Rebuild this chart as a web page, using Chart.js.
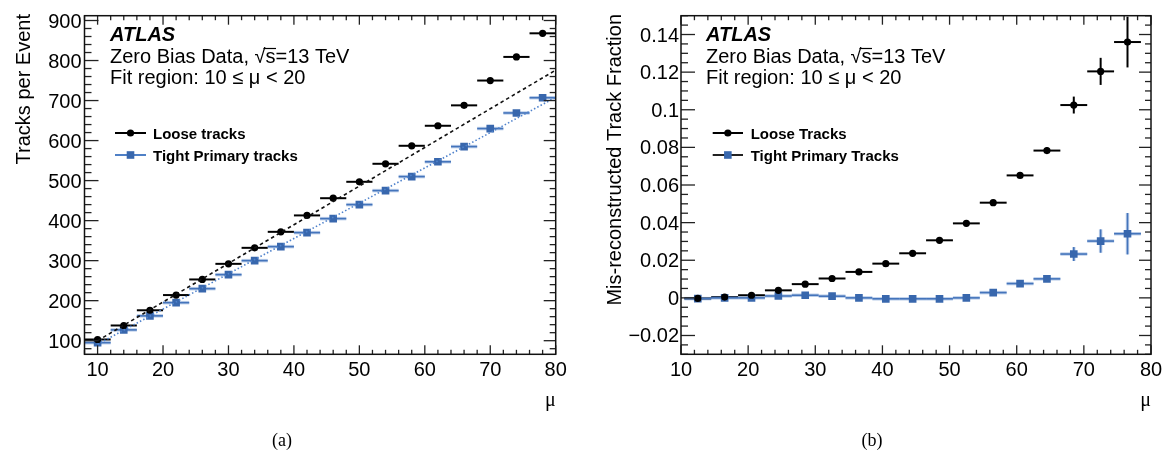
<!DOCTYPE html>
<html lang="en">
<head>
<meta charset="UTF-8">
<title>ATLAS tracks per event vs mu</title>
<script src="https://cdn.jsdelivr.net/npm/chart.js"></script>
<style>
  html, body { margin: 0; padding: 0; background: #fff; }
  .wrap { position: relative; width: 1164px; height: 458px; }
  .panel { position: absolute; top: 0; width: 582px; height: 458px; }
</style>
</head>
<body>
<div class="wrap">
  <div class="panel" style="left:0"><canvas id="chartA" width="582" height="458"></canvas></div>
  <div class="panel" style="left:582px"><canvas id="chartB" width="582" height="458"></canvas></div>
</div>
<script>
// ---- panel (a): tracks per event ----
const muA = [10, 14, 18, 22, 26, 30, 34, 38, 42, 46, 50, 54, 58, 62, 66, 70, 74, 78];
const looseA = [103, 138, 176, 214, 253, 292, 332, 372, 413, 456, 497, 542, 587, 637, 688, 750, 809, 868];
const tightA = [95, 127, 162, 195, 230, 265, 300, 335, 370, 405, 440, 475, 510, 547, 585, 630, 669, 707];
const fitMu = [10, 80];
const fitLooseA = [100, 776];
const fitTightA = [91, 708];
const xTicksA = [10, 20, 30, 40, 50, 60, 70, 80];
const yTicksA = [100, 200, 300, 400, 500, 600, 700, 800, 900];

// ---- panel (b): mis-reconstructed fraction ----
const muB = [12.5, 16.5, 20.5, 24.5, 28.5, 32.5, 36.5, 40.5, 44.5, 48.5, 52.5, 56.5, 60.5, 64.5, 68.5, 72.5, 76.5];
const looseB = [-0.0003, 0.0004, 0.0014, 0.004, 0.0073, 0.0103, 0.0138, 0.0182, 0.0237, 0.0306, 0.0396, 0.0506, 0.0651, 0.0783, 0.1025, 0.1204, 0.136];
const looseErrB = [0, 0, 0, 0, 0, 0, 0, 0, 0, 0, 0, 0, 0.001, 0.0017, 0.0045, 0.0072, 0.0135];
const tightB = [-0.0004, 0, 0, 0.001, 0.0014, 0.0009, 0, -0.0005, -0.0005, -0.0005, 0, 0.0028, 0.0076, 0.0101, 0.0233, 0.0302, 0.0341];
const tightErrB = [0, 0, 0, 0, 0, 0, 0, 0, 0, 0, 0, 0, 0.0006, 0.0015, 0.0037, 0.0062, 0.011];
const xTicksB = [10, 20, 30, 40, 50, 60, 70, 80];
const yTicksB = [-0.02, 0, 0.02, 0.04, 0.06, 0.08, 0.1, 0.12, 0.14];
const yLabelsB = ['\u22120.02', '0', '0.02', '0.04', '0.06', '0.08', '0.1', '0.12', '0.14'];

const SANS = '"Liberation Sans", Arial, Helvetica, sans-serif';
const SERIF = '"Liberation Serif", "Times New Roman", serif';
const BLUE = '#3867ad';

const pts = (xs, ys) => xs.map((x, i) => ({ x: x, y: ys[i] }));

// horizontal (bin width) and vertical error bars, drawn under the markers
function drawErrors(chart) {
  const ctx = chart.ctx, xs = chart.scales.x, ys = chart.scales.y;
  chart.data.datasets.forEach(ds => {
    if (!ds.errStyle) return;
    ctx.save();
    ds.data.forEach((p, i) => {
      const x0 = xs.getPixelForValue(p.x - ds.halfWidth);
      const x1 = xs.getPixelForValue(p.x + ds.halfWidth);
      const xc = xs.getPixelForValue(p.x);
      const y = ys.getPixelForValue(p.y);
      const e = ds.errY ? ds.errY[i] : 0;
      const segs = [[x0, y, x1, y]];
      if (e > 0) segs.push([xc, ys.getPixelForValue(p.y + e), xc, ys.getPixelForValue(p.y - e)]);
      const passes = ds.errStyle === 'blue'
        ? [['rgba(70,120,195,0.35)', 3.5], ['#4474bb', 1.6]]
        : [['#000', 2]];
      passes.forEach(([col, w]) => {
        ctx.strokeStyle = col; ctx.lineWidth = w;
        segs.forEach(s => { ctx.beginPath(); ctx.moveTo(s[0], s[1]); ctx.lineTo(s[2], s[3]); ctx.stroke(); });
      });
    });
    ctx.restore();
  });
}

function decor(cfg) {
  return {
    id: 'decor',
    beforeDatasetsDraw(chart) { drawErrors(chart); },
    afterDraw(chart) {
      const ctx = chart.ctx, a = chart.chartArea, xs = chart.scales.x, ys = chart.scales.y;
      ctx.save();
      // ticks on all four sides, pointing inward
      ctx.strokeStyle = '#222'; ctx.lineWidth = 1.3;
      const line = (x0, y0, x1, y1) => { ctx.beginPath(); ctx.moveTo(x0, y0); ctx.lineTo(x1, y1); ctx.stroke(); };
      const nx = Math.round((cfg.xMax - cfg.xMin) / cfg.xMinorStep);
      for (let k = 0; k <= nx; k++) {
        const v = cfg.xMin + k * cfg.xMinorStep;
        const major = cfg.xMajor.some(t => Math.abs(t - v) < 1e-6);
        const len = major ? 9 : 4.5;
        const px = xs.getPixelForValue(v);
        line(px, a.bottom, px, a.bottom - len);
        line(px, a.top, px, a.top + len);
      }
      const y0 = Math.ceil(cfg.yMin / cfg.yMinorStep - 1e-6);
      const y1 = Math.floor(cfg.yMax / cfg.yMinorStep + 1e-6);
      for (let k = y0; k <= y1; k++) {
        const v = k * cfg.yMinorStep;
        const major = cfg.yMajor.some(t => Math.abs(t - v) < cfg.yMinorStep / 10);
        const py = ys.getPixelForValue(v);
        line(a.left, py, a.left + (major ? 14 : 7), py);
        line(a.right, py, a.right - (major ? 12 : 6), py);
      }
      // frame
      ctx.strokeStyle = '#111'; ctx.lineWidth = 1.5;
      ctx.strokeRect(a.left, a.top, a.right - a.left, a.bottom - a.top);

      // tick labels
      ctx.fillStyle = '#000';
      ctx.font = '20px ' + SANS;
      ctx.textAlign = 'center'; ctx.textBaseline = 'alphabetic';
      cfg.xMajor.forEach(v => ctx.fillText(String(v), xs.getPixelForValue(v), a.bottom + 21.5));
      ctx.textAlign = 'right';
      cfg.yMajor.forEach((v, i) => ctx.fillText(cfg.yLabels[i], a.left - cfg.yLabelGap, ys.getPixelForValue(v) + 7));

      // axis titles
      ctx.font = '20px ' + SERIF;
      ctx.fillText('\u03bc', a.right, 406);
      ctx.save();
      ctx.translate(cfg.yTitleX, 14);
      ctx.rotate(-Math.PI / 2);
      ctx.font = '20px ' + SANS;
      ctx.textAlign = 'right';
      ctx.fillText(cfg.yTitle, 0, 0);
      ctx.restore();

      // ATLAS label block
      const tx = cfg.textX;
      ctx.textAlign = 'left';
      ctx.font = 'italic bold 20px ' + SANS;
      ctx.fillText('ATLAS', tx, 40.5);
      ctx.font = '20px ' + SANS;
      const pre = 'Zero Bias Data, \u221a';
      ctx.fillText(pre + 's=13 TeV', tx, 63.3);
      const w1 = ctx.measureText(pre).width, ws = ctx.measureText('s').width;
      ctx.strokeStyle = '#000'; ctx.lineWidth = 1.2;
      line(tx + w1 - 2, 48.5, tx + w1 + ws + 0.5, 48.5);
      ctx.fillText('Fit region: 10 \u2264 \u03bc < 20', tx, 83.5);

      // legend
      const L = cfg.legend;
      L.rows.forEach((r, i) => {
        const y = 133 + i * 22;
        ctx.strokeStyle = r.lineColor; ctx.lineWidth = 2;
        line(L.x0, y, L.x1, y);
        const xc = (L.x0 + L.x1) / 2;
        ctx.fillStyle = r.color;
        ctx.beginPath();
        if (r.square) ctx.rect(xc - 3.8, y - 3.8, 7.6, 7.6);
        else ctx.arc(xc, y, 3.6, 0, Math.PI * 2);
        ctx.fill();
        ctx.fillStyle = '#000';
        ctx.font = 'bold 15px ' + SANS;
        ctx.fillText(r.label, L.tx, y + 5.5);
      });

      // panel caption
      ctx.font = '18px ' + SERIF;
      ctx.textAlign = 'center';
      ctx.fillText(cfg.caption, cfg.captionX, 446);
      ctx.restore();
    }
  };
}

function makeChart(id, cfg, datasets) {
  return new Chart(document.getElementById(id), {
    data: { datasets: datasets },
    options: {
      responsive: false,
      animation: false,
      events: [],
      layout: { padding: cfg.padding },
      plugins: { legend: { display: false }, tooltip: { enabled: false } },
      scales: {
        x: { type: 'linear', display: false, min: cfg.xMin, max: cfg.xMax },
        y: { type: 'linear', display: false, min: cfg.yMin, max: cfg.yMax }
      }
    },
    plugins: [decor(cfg)]
  });
}

const looseStyle = { type: 'scatter', pointStyle: 'circle', pointRadius: 3.6, backgroundColor: '#000', borderWidth: 0, errStyle: 'black', halfWidth: 2 };
const tightStyle = { type: 'scatter', pointStyle: 'rect', pointRadius: 5.4, backgroundColor: BLUE, borderWidth: 0, errStyle: 'blue', halfWidth: 2 };

makeChart('chartA', {
  padding: { left: 84.5, right: 26.3, top: 15.7, bottom: 103.7 },
  xMin: 8, xMax: 80, yMin: 66, yMax: 912,
  xMajor: xTicksA, xMinorStep: 2,
  yMajor: yTicksA, yLabels: yTicksA.map(String), yMinorStep: 20, yLabelGap: 3,
  yTitle: 'Tracks per Event', yTitleX: 29.5,
  textX: 110,
  legend: { x0: 115, x1: 146, tx: 153, rows: [
    { label: 'Loose tracks', color: '#000', lineColor: '#000' },
    { label: 'Tight Primary tracks', color: BLUE, lineColor: '#4f80c6', square: true }
  ] },
  caption: '(a)', captionX: 282
}, [
  { type: 'line', data: pts(fitMu, fitLooseA), borderColor: '#111', borderWidth: 1.6, borderDash: [3.5, 3], pointRadius: 0 },
  { type: 'line', data: pts(fitMu, fitTightA), borderColor: '#4f82cc', borderWidth: 1.6, borderDash: [1.5, 2.2], pointRadius: 0 },
  Object.assign({ data: pts(muA, looseA) }, looseStyle),
  Object.assign({ data: pts(muA, tightA) }, tightStyle)
]);

makeChart('chartB', {
  padding: { left: 99, right: 13, top: 15.7, bottom: 103.7 },
  xMin: 10, xMax: 80, yMin: -0.03, yMax: 0.15,
  xMajor: xTicksB, xMinorStep: 2,
  yMajor: yTicksB, yLabels: yLabelsB, yMinorStep: 0.005, yLabelGap: 2,
  yTitle: 'Mis-reconstructed Track Fraction', yTitleX: 39,
  textX: 124,
  legend: { x0: 130.7, x1: 161, tx: 168.7, rows: [
    { label: 'Loose Tracks', color: '#000', lineColor: '#000' },
    { label: 'Tight Primary Tracks', color: BLUE, lineColor: '#222', square: true }
  ] },
  caption: '(b)', captionX: 290
}, [
  Object.assign({ data: pts(muB, looseB), errY: looseErrB }, looseStyle),
  Object.assign({ data: pts(muB, tightB), errY: tightErrB }, tightStyle)
]);
</script>
</body>
</html>
